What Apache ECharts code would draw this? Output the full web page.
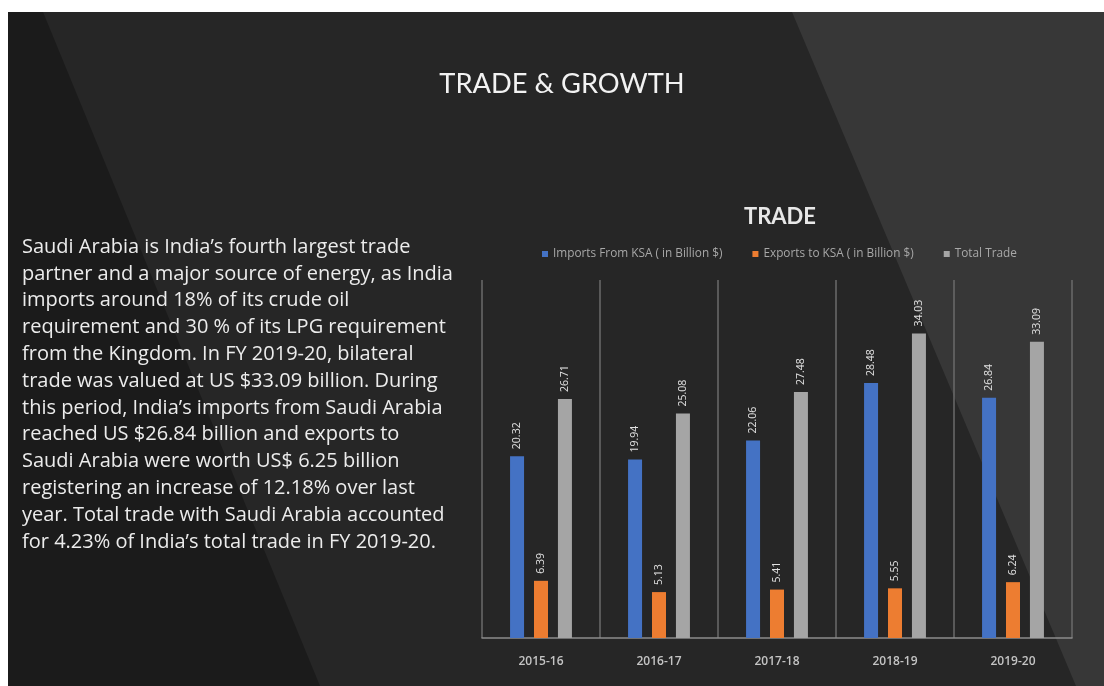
<!DOCTYPE html>
<html>
<head>
<meta charset="utf-8">
<script src="https://cdn.jsdelivr.net/npm/echarts@6/dist/echarts.min.js"></script>
<style>
  html, body { margin: 0; padding: 0; background: #ffffff; }
  #chart { width: 1104px; height: 686px; }
</style>
</head>
<body>
<div id="chart"></div>
<script>
// Fiscal years on the category axis
const years = ['2015-16', '2016-17', '2017-18', '2018-19', '2019-20'];
// India–Saudi Arabia trade, billion US$
const importsFromKSA = [20.32, 19.94, 22.06, 28.48, 26.84];
const exportsToKSA = [6.39, 5.13, 5.41, 5.55, 6.24];
const totalTrade = [26.71, 25.08, 27.48, 34.03, 33.09];

const seriesNames = ['Imports From KSA ( in Billion $)', 'Exports to KSA ( in Billion $)', 'Total Trade'];

// Paragraph shown beside the chart, one entry per line
const bodyLines = [
  'Saudi Arabia is India\u2019s fourth largest trade',
  'partner and a major source of energy, as India',
  'imports around 18% of its crude oil',
  'requirement and 30 % of its LPG requirement',
  'from the Kingdom. In FY 2019-20, bilateral',
  'trade was valued at US $33.09 billion. During',
  'this period, India\u2019s imports from Saudi Arabia',
  'reached US $26.84 billion and exports to',
  'Saudi Arabia were worth US$ 6.25 billion',
  'registering an increase of 12.18% over last',
  'year. Total trade with Saudi Arabia accounted',
  'for 4.23% of India\u2019s total trade in FY 2019-20.'
];

const chart = echarts.init(document.getElementById('chart'));

const bodyFont = '"Open Sans", Lato, sans-serif';
const headFont = 'Lato, "Open Sans", sans-serif';

const bodyText = bodyLines.map((line, i) => ({
  type: 'text',
  x: 22,
  y: 247 + i * 26.8,
  z: 10,
  style: {
    text: line,
    fill: '#ececec',
    font: '20px ' + bodyFont,
    textVerticalAlign: 'middle'
  }
}));

const barLabel = {
  show: true,
  position: 'top',
  rotate: 90,
  align: 'left',
  verticalAlign: 'middle',
  distance: 7,
  color: '#e2e2e2',
  fontSize: 10.5,
  fontFamily: bodyFont,
  formatter: p => p.value.toFixed(2)
};

function barSeries(name, data, color) {
  return {
    name: name,
    type: 'bar',
    data: data,
    barWidth: 14,
    barGap: '71%',
    itemStyle: { color: color },
    label: barLabel
  };
}

chart.setOption({
  backgroundColor: 'transparent',
  animation: false,
  graphic: [
    // slide panels
    { type: 'rect', z: -10, shape: { x: 8, y: 12, width: 1096, height: 674 }, style: { fill: '#262626' } },
    { type: 'polygon', z: -9, shape: { points: [[8, 12], [43, 12], [320, 686], [8, 686]] }, style: { fill: '#1b1b1b' } },
    { type: 'polygon', z: -9, shape: { points: [[792, 12], [1104, 12], [1104, 686], [1076, 686]] }, style: { fill: '#373737' } },
    {
      type: 'text', x: 562, y: 84, z: 10,
      style: {
        text: 'TRADE & GROWTH', fill: '#f2f2f2', font: '27.3px ' + headFont,
        textAlign: 'center', textVerticalAlign: 'middle'
      }
    },
    ...bodyText
  ],
  title: {
    text: 'TRADE',
    left: 775,
    top: 201,
    textAlign: 'center',
    textStyle: { color: '#e8e8e8', fontSize: 22, fontWeight: 'bold', fontFamily: headFont }
  },
  legend: {
    data: seriesNames,
    top: 243,
    left: 537,
    itemWidth: 6,
    itemHeight: 6,
    itemGap: 30,
    icon: 'rect',
    textStyle: { color: '#a8a8a8', fontSize: 11.8, fontFamily: bodyFont, padding: [0, 0, 0, 0] }
  },
  grid: { left: 482, right: 32, top: 280, bottom: 48, containLabel: false },
  xAxis: {
    type: 'category',
    data: years,
    axisLine: { lineStyle: { color: '#8c8c8c', width: 1.5 } },
    axisTick: { show: false },
    splitLine: { show: true, interval: 0, lineStyle: { color: '#6b6b6b', width: 1.5 } },
    axisLabel: { color: '#c4c4c4', fontSize: 12, fontWeight: 600, fontFamily: bodyFont, margin: 18 }
  },
  yAxis: {
    type: 'value',
    min: 0,
    max: 40,
    show: false,
    splitLine: { show: false }
  },
  series: [
    barSeries(seriesNames[0], importsFromKSA, '#4472c4'),
    barSeries(seriesNames[1], exportsToKSA, '#ed7d31'),
    barSeries(seriesNames[2], totalTrade, '#a5a5a5')
  ]
});
</script>
</body>
</html>
